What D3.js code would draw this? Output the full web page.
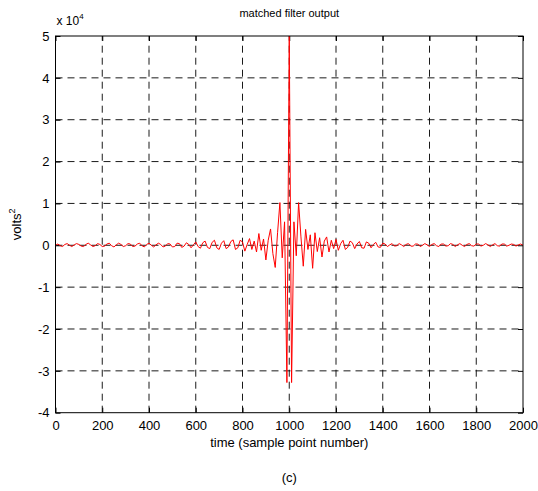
<!DOCTYPE html>
<html>
<head>
<meta charset="utf-8">
<script src="https://cdn.jsdelivr.net/npm/d3@7"></script>
<style>
  html, body { margin: 0; padding: 0; background: #fff; }
  svg { display: block; font-family: Arial, "Liberation Sans", sans-serif; }
</style>
</head>
<body>
<svg id="chart" width="538" height="491"></svg>
<script>
// Matched filter output, one value every 10 samples (units of 1e4 volts^2)
const sampleStep = 10;
const filterOut = [
  // 0 - 490
  0.00, 0.03, -0.01, -0.03, 0.02, 0.04, 0.00, -0.03, 0.01, 0.04,
  0.02, -0.02, -0.03, 0.02, 0.05, 0.01, -0.03, -0.01, 0.04, 0.02,
  -0.03, -0.02, 0.03, 0.05, -0.01, -0.04, 0.01, 0.05, 0.02, -0.03,
  -0.01, 0.04, 0.03, -0.03, -0.02, 0.03, 0.05, -0.01, -0.04, 0.02,
  0.05, 0.00, -0.04, 0.01, 0.05, 0.02, -0.04, -0.02, 0.04, 0.03,
  // 500 - 990
  -0.04, -0.03, 0.05, 0.04, -0.05, -0.02, 0.06, 0.02, -0.06, 0.01,
  0.08, -0.03, -0.07, 0.06, 0.10, -0.05, -0.08, 0.07, 0.12, -0.06,
  -0.10, 0.05, 0.11, -0.08, -0.04, 0.09, 0.13, -0.10, -0.06, 0.12,
  0.08, -0.14, 0.02, 0.16, -0.10, 0.10, -0.16, 0.28, -0.12, 0.15,
  -0.35, 0.12, 0.39, -0.20, -0.53, 0.30, 1.02, -0.30, 0.56, -3.28,
  // 1000
  5.00,
  // 1010 - 1090
  -3.28, 0.56, -0.25, 1.02, 0.20, -0.50, 0.38, -0.10, 0.25,
  // 1100 - 1590
  -0.55, 0.30, -0.15, 0.18, -0.28, 0.10, 0.20, -0.16, 0.12, -0.08,
  0.14, -0.12, 0.04, 0.12, -0.10, -0.05, 0.10, 0.06, -0.08, 0.03,
  0.09, -0.06, -0.07, 0.08, 0.05, -0.06, 0.02, 0.07, -0.04, -0.05,
  0.05, 0.03, -0.03, 0.01, 0.04, -0.02, -0.01, 0.04, 0.01, -0.03,
  0.02, 0.04, -0.02, -0.02, 0.03, 0.03, -0.03, 0.00, 0.04, 0.01,
  // 1600 - 2000
  -0.03, 0.02, 0.04, -0.01, -0.03, 0.03, 0.03, -0.02, -0.01, 0.04,
  0.02, -0.03, 0.01, 0.04, 0.00, -0.03, 0.02, 0.04, -0.01, -0.02,
  0.03, 0.03, -0.02, 0.00, 0.04, 0.01, -0.03, 0.01, 0.04, -0.01,
  -0.02, 0.03, 0.03, -0.02, 0.00, 0.03, 0.02, -0.02, 0.01, 0.03,
  0.00
];

const xTicks = [0, 200, 400, 600, 800, 1000, 1200, 1400, 1600, 1800, 2000];
const yTicks = [-4, -3, -2, -1, 0, 1, 2, 3, 4, 5];
const xDomain = [0, 2000];
const yDomain = [-4, 5];

const titleText = "matched filter output";
const xLabelText = "time (sample point number)";
const yLabelBase = "volts";
const yLabelSup = "2";
const scaleBase = "x 10";
const scaleExp = "4";
const captionText = "(c)";

const svg = d3.select("#chart");
const plotLeft = 55.5, plotRight = 523, plotTop = 36, plotBottom = 412.7;

const x = d3.scaleLinear().domain(xDomain).range([plotLeft, plotRight]);
const y = d3.scaleLinear().domain(yDomain).range([plotBottom, plotTop]);

const points = filterOut.map((v, i) => [i * sampleStep, v]);

// dashed grid
const grid = svg.append("g")
  .attr("stroke", "#000")
  .attr("stroke-width", 0.9)
  .attr("stroke-dasharray", "7,5");
grid.selectAll("line.vx").data(xTicks.slice(1, -1)).join("line")
  .attr("class", "vx")
  .attr("x1", d => x(d)).attr("x2", d => x(d))
  .attr("y1", plotBottom).attr("y2", plotTop);
grid.selectAll("line.hy").data(yTicks.slice(1, -1)).join("line")
  .attr("class", "hy")
  .attr("y1", d => y(d)).attr("y2", d => y(d))
  .attr("x1", plotLeft).attr("x2", plotRight);

// axes with inward ticks on all four sides
const tickLen = 5;
const plain = d => String(d);
const axB = svg.append("g").attr("transform", `translate(0,${plotBottom})`)
  .call(d3.axisBottom(x).tickValues(xTicks).tickSizeInner(-tickLen).tickSizeOuter(0).tickPadding(8)
    .tickFormat(plain));
const axT = svg.append("g").attr("transform", `translate(0,${plotTop})`)
  .call(d3.axisTop(x).tickValues(xTicks).tickSizeInner(-tickLen).tickSizeOuter(0).tickFormat(""));
const axL = svg.append("g").attr("transform", `translate(${plotLeft},0)`)
  .call(d3.axisLeft(y).tickValues(yTicks).tickSizeInner(-tickLen).tickSizeOuter(0).tickPadding(6)
    .tickFormat(plain));
const axR = svg.append("g").attr("transform", `translate(${plotRight},0)`)
  .call(d3.axisRight(y).tickValues(yTicks).tickSizeInner(-tickLen).tickSizeOuter(0).tickFormat(""));

[axB, axT, axL, axR].forEach(a => {
  a.select(".domain").remove();
  a.selectAll("line").attr("stroke", "#000").attr("stroke-width", 1);
  a.selectAll("text").attr("fill", "#000").attr("font-size", 13)
    .attr("font-family", "Arial, 'Liberation Sans', sans-serif");
});

// signal trace
const clipId = "plotClip";
svg.append("clipPath").attr("id", clipId).append("rect")
  .attr("x", plotLeft).attr("y", plotTop - 1)
  .attr("width", plotRight - plotLeft).attr("height", plotBottom - plotTop + 2);
svg.append("path")
  .datum(points)
  .attr("clip-path", `url(#${clipId})`)
  .attr("fill", "none")
  .attr("stroke", "#ff0000")
  .attr("stroke-width", 1)
  .attr("stroke-linejoin", "round")
  .attr("d", d3.line().x(d => x(d[0])).y(d => y(d[1])));

// box
svg.append("rect")
  .attr("x", plotLeft).attr("y", plotTop)
  .attr("width", plotRight - plotLeft).attr("height", plotBottom - plotTop)
  .attr("fill", "none").attr("stroke", "#000").attr("stroke-width", 1);

// title
svg.append("text")
  .attr("x", (plotLeft + plotRight) / 2).attr("y", 17)
  .attr("text-anchor", "middle").attr("font-size", 11)
  .text(titleText);

// exponent marker
const sc = svg.append("text").attr("x", plotLeft + 1).attr("y", 25).attr("font-size", 12);
sc.append("tspan").text(scaleBase);
sc.append("tspan").attr("font-size", 8).attr("dy", -6).text(scaleExp);

// x label
svg.append("text")
  .attr("x", (plotLeft + plotRight) / 2).attr("y", 447)
  .attr("text-anchor", "middle").attr("font-size", 13)
  .text(xLabelText);

// y label
const yl = svg.append("text")
  .attr("transform", `translate(21,${(plotTop + plotBottom) / 2}) rotate(-90)`)
  .attr("text-anchor", "middle").attr("font-size", 13);
yl.append("tspan").text(yLabelBase);
yl.append("tspan").attr("font-size", 9).attr("dy", -6).text(yLabelSup);

// caption
svg.append("text")
  .attr("x", (plotLeft + plotRight) / 2).attr("y", 482)
  .attr("text-anchor", "middle").attr("font-size", 13)
  .text(captionText);
</script>
</body>
</html>
